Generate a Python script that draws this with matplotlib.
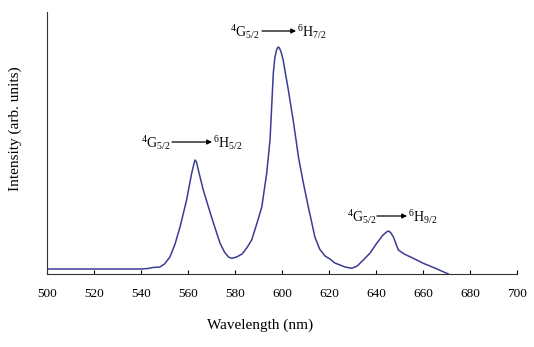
import matplotlib
matplotlib.use('Agg')
import matplotlib.pyplot as plt

matplotlib.rcParams.update({
    'font.family': 'Liberation Serif',
    'mathtext.fontset': 'custom',
    'mathtext.rm': 'Liberation Serif',
    'mathtext.it': 'Liberation Serif:italic',
    'mathtext.bf': 'Liberation Serif:bold',
})

# emission spectrum (arb. units)
wavelength = [500, 540, 543, 545, 548, 550, 552.3, 554.5, 556.6, 559.4, 561.5,
              562.5, 563, 563.6, 564.5, 566.5, 570, 573.6, 575.5, 577.2, 578.6,
              580.7, 583, 585, 587.1, 589.5, 591.4, 593.5, 594.9, 595.6, 596.3,
              597, 597.7, 598.3, 598.9, 599.6, 600.5, 601.5, 602.7, 605, 607,
              609, 611.2, 614, 616, 618.3, 620.4, 622.5, 624.7, 626.8, 629.7,
              632, 634.6, 637.5, 640.3, 643, 644.5, 645.3, 646.2, 647.4, 649.5,
              652, 656, 660.1, 665, 670.8]
intensity = [5, 5, 5.5, 6.5, 7, 10, 17, 30, 47, 74, 100,
             110, 114, 112, 103, 84, 57, 31, 22, 17, 15.7,
             17, 20, 26, 34, 52, 67, 101, 134, 167, 201,
             217, 224, 227, 226, 222, 214, 200, 184, 150, 117,
             92, 67, 37, 25, 18, 15, 11, 9, 7, 5.7,
             8, 14, 21, 30.7, 39, 42, 43, 41.5, 37, 24,
             20, 15.5, 10.7, 6, 0]

# transition labels
lower_levels = [r'$^{6}\mathrm{H}_{5/2}$', r'$^{6}\mathrm{H}_{7/2}$', r'$^{6}\mathrm{H}_{9/2}$']
label_x = [540, 577.9, 627.7]
label_y = [131, 242, 57]
arrow_x0 = [553.2, 591.5, 640.4]
arrow_x1 = [570.2, 606.0, 653.2]
upper_level = r'$^{4}\mathrm{G}_{5/2}$'

fig = plt.figure(figsize=(5.34, 3.47), dpi=100)
ax = fig.add_axes([47 / 534, 73 / 347, 470 / 534, 262 / 347])

ax.plot(wavelength, intensity, color='#3c3c94', linewidth=1.1)

for lab, x, y, a0, a1 in zip(lower_levels, label_x, label_y, arrow_x0, arrow_x1):
    ax.text(x, y, upper_level, fontsize=10, va='center', ha='left')
    ax.annotate('', xy=(a1, y + 1), xytext=(a0, y + 1),
                arrowprops=dict(arrowstyle='-|>', color='black', lw=0.9,
                                mutation_scale=7, shrinkA=0, shrinkB=0))
    ax.text(a1 + 0.4, y, lab, fontsize=10, va='center', ha='left')

ax.set_xlim(500, 700)
ax.set_ylim(0, 262)
ax.set_xticks(range(500, 701, 20))
ax.set_yticks([])
ax.tick_params(axis='x', direction='in', length=3, width=0.8, pad=10, labelsize=9.5)
ax.spines['top'].set_visible(False)
ax.spines['right'].set_visible(False)
ax.spines['left'].set_color('#333333')
ax.spines['bottom'].set_color('#333333')

ax.set_xlabel('Wavelength (nm)', fontsize=11)
ax.set_ylabel('Intensity (arb. units)', fontsize=11)
ax.xaxis.set_label_coords(0.453, -0.168)
ax.yaxis.set_label_coords(-0.053, 0.553)

fig.savefig('out.png', dpi=100)
plt.close(fig)
